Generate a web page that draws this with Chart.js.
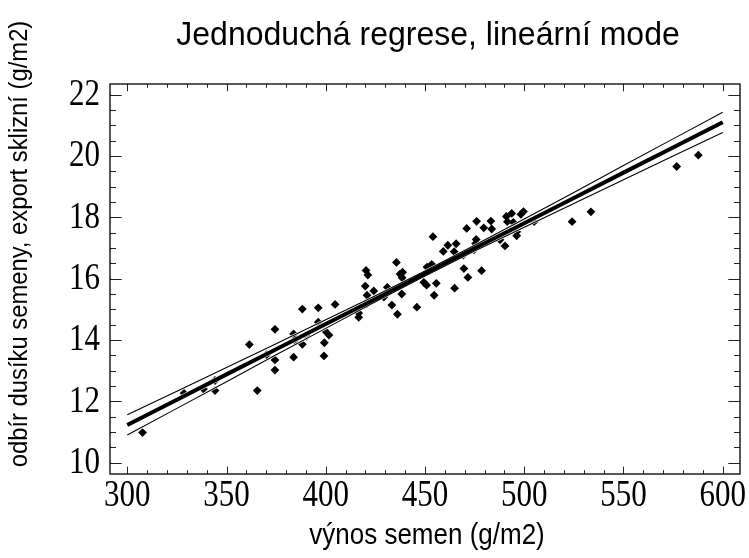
<!DOCTYPE html>
<html>
<head>
<meta charset="utf-8">
<script src="https://cdn.jsdelivr.net/npm/chart.js@4"></script>
<style>
  html, body { margin: 0; padding: 0; background: #fff; }
  #wrap { width: 749px; height: 558px; }
</style>
</head>
<body>
<div id="wrap"><canvas id="c" width="749" height="558"></canvas></div>
<script>
// ---- data ----
const seedYield = [
  307.7, 328.6, 338.4, 344.2, 344.2, 361.5, 365.5, 370.2, 374.4, 374.4,
  374.4, 383.8, 384.4, 383.8, 388.2, 388.2, 390.4, 396.2, 396.2, 399.7,
  401.6, 399.3, 399.1, 404.7, 416.6, 416.6, 420.3, 421.2, 419.9, 420.8,
  420.6, 424.2, 429.3, 431.0, 433.3, 436.1, 435.6, 437.4, 438.7, 438.5,
  438.3, 445.9, 449.4, 450.8, 451.0, 453.4, 454.2, 454.6, 455.7, 454.0,
  459.2, 461.5, 465.7, 464.7, 464.9, 469.3, 469.6, 471.6, 471.0, 476.0,
  475.8, 475.5, 478.5, 479.6, 483.2, 483.6, 487.8, 490.3, 491.0, 493.7,
  491.5, 494.5, 496.2, 496.2, 499.6, 498.3, 505.0, 524.1, 533.6, 576.8,
  587.7, 474.7
];
const nitrogenExport = [
  10.98, 12.26, 12.40, 12.35, 12.68, 13.85, 12.35, 13.52, 14.35, 13.35,
  13.02, 14.20, 14.00, 13.44, 13.86, 15.01, 14.13, 15.05, 14.58, 14.30,
  14.16, 13.91, 13.48, 15.16, 14.88, 14.74, 16.27, 16.12, 15.76, 15.46,
  15.18, 15.60, 15.40, 15.72, 15.14, 14.84, 16.53, 16.15, 16.21, 16.03,
  15.50, 15.07, 15.88, 15.79, 16.38, 16.47, 16.39, 15.46, 15.85, 17.37,
  16.89, 17.09, 17.14, 16.88, 15.69, 16.77, 16.33, 16.04, 17.64, 17.87,
  17.28, 17.15, 16.26, 17.66, 17.88, 17.62, 17.27, 17.07, 18.03, 18.13,
  17.86, 17.84, 17.53, 17.40, 18.19, 18.10, 17.86, 17.86, 18.18, 19.66,
  20.03, 16.94
];
// regression line and confidence band
const fitX     = [300, 325, 350, 375, 400, 425, 450, 475, 500, 525, 550, 575, 600];
const fitY     = [11.23, 12.05, 12.88, 13.70, 14.52, 15.34, 16.17, 16.99, 17.81, 18.63, 19.46, 20.28, 21.10];
const bandUp   = [11.56, 12.33, 13.10, 13.88, 14.66, 15.44, 16.25, 17.09, 17.95, 18.81, 19.69, 20.56, 21.43];
const bandLow  = [10.90, 11.77, 12.64, 13.52, 14.38, 15.25, 16.09, 16.90, 17.68, 18.45, 19.23, 20.00, 20.77];
// ticks
const xTickLabels = [300, 350, 400, 450, 500, 550, 600];
const yTickLabels = [10, 12, 14, 16, 18, 20, 22];
const xMinorStep = 10;
const yMinorStep = 0.5;

const titleText = 'Jednoduchá regrese, lineární mode';
const xTitleText = 'výnos semen (g/m2)';
const yTitleText = 'odbír dusíku semeny, export sklizní (g/m2)';

// ---- build datasets ----
const pts = seedYield.map((x, i) => ({ x: x, y: nitrogenExport[i] }));
const toXY = (ys) => fitX.map((x, i) => ({ x: x, y: ys[i] }));

function lineDs(data, color, width, order) {
  return { type: 'scatter', data: data, showLine: true, borderColor: color, borderWidth: width,
           pointRadius: 0, pointHoverRadius: 0, fill: false, tension: 0, order: order,
           borderCapStyle: 'butt', borderJoinStyle: 'round' };
}

const datasets = [
  lineDs(toXY(fitY), '#000', 4, 1),
  lineDs(toXY(bandUp), '#000', 1.1, 2),
  lineDs(toXY(bandLow), '#000', 1.1, 3),
  lineDs(toXY(fitY), '#fff', 5.2, 4),
  lineDs(toXY(bandUp), '#fff', 2.3, 5),
  lineDs(toXY(bandLow), '#fff', 2.3, 6),
  { type: 'scatter', data: pts, pointStyle: 'rectRot', pointRadius: 4.4, pointHoverRadius: 4.4,
    backgroundColor: '#000', borderColor: '#000', borderWidth: 0, order: 10 }
];

function drawText(ctx, txt, x, y, font, sx, sy, rot, align) {
  ctx.save();
  ctx.translate(x, y);
  if (rot) ctx.rotate(rot);
  ctx.scale(sx, sy);
  ctx.font = font;
  ctx.fillStyle = '#000';
  ctx.textAlign = align || 'center';
  ctx.textBaseline = 'middle';
  ctx.fillText(txt, 0, 0);
  ctx.restore();
}

const framePlugin = {
  id: 'frame',
  afterDatasetsDraw(chart) {
    const ctx = chart.ctx;
    const a = chart.chartArea;
    const xs = chart.scales.x, ys = chart.scales.y;
    ctx.save();
    ctx.strokeStyle = '#222';
    ctx.lineWidth = 1;
    // x ticks (top and bottom), inward
    const xMaj = 7.3, xMin = 3.8, yMaj = 11.7, yMin = 6;
    ctx.beginPath();
    for (let v = xTickLabels[0]; v <= xTickLabels[xTickLabels.length - 1] + 1e-9; v += xMinorStep) {
      const isMaj = xTickLabels.some(t => Math.abs(t - v) < 1e-6);
      const p = Math.round(xs.getPixelForValue(v)) + 0.5;
      const L = isMaj ? xMaj : xMin;
      ctx.moveTo(p, a.bottom); ctx.lineTo(p, a.bottom - L);
      ctx.moveTo(p, a.top); ctx.lineTo(p, a.top + L);
    }
    for (let v = yTickLabels[0]; v <= yTickLabels[yTickLabels.length - 1] + 1e-9; v += yMinorStep) {
      const isMaj = yTickLabels.some(t => Math.abs(t - v) < 1e-6);
      const p = Math.round(ys.getPixelForValue(v)) + 0.5;
      const L = isMaj ? yMaj : yMin;
      ctx.moveTo(a.left, p); ctx.lineTo(a.left + L, p);
      ctx.moveTo(a.right, p); ctx.lineTo(a.right - L, p);
    }
    ctx.stroke();
    // frame
    ctx.lineWidth = 1.4;
    ctx.strokeStyle = '#111';
    ctx.strokeRect(a.left, a.top, a.right - a.left, a.bottom - a.top);
    ctx.restore();

    // tick labels
    const serif = '31px "Liberation Serif", "Times New Roman", serif';
    xTickLabels.forEach(v => {
      drawText(ctx, String(v), xs.getPixelForValue(v), 496, serif, 1, 1.25, 0, 'center');
    });
    yTickLabels.forEach(v => {
      drawText(ctx, String(v), 100, ys.getPixelForValue(v), serif, 1, 1.25, 0, 'right');
    });
    // titles
    drawText(ctx, titleText, 428, 36, '32px "Liberation Sans", Arial, sans-serif', 1, 1.05, 0, 'center');
    drawText(ctx, xTitleText, 427, 536, '26px "Liberation Sans", Arial, sans-serif', 1, 1.1, 0, 'center');
    drawText(ctx, yTitleText, 20, 244, '23.8px "Liberation Sans", Arial, sans-serif', 1, 1.05, -Math.PI / 2, 'center');
  }
};

new Chart(document.getElementById('c'), {
  type: 'scatter',
  data: { datasets: datasets },
  options: {
    responsive: false,
    animation: false,
    events: [],
    layout: { padding: { left: 110, top: 84, right: 9, bottom: 84 } },
    plugins: { legend: { display: false }, title: { display: false }, tooltip: { enabled: false } },
    scales: {
      x: { type: 'linear', min: 291.3, max: 608.7, display: false },
      y: { type: 'linear', min: 9.63, max: 22.35, display: false }
    }
  },
  plugins: [framePlugin]
});
</script>
</body>
</html>
